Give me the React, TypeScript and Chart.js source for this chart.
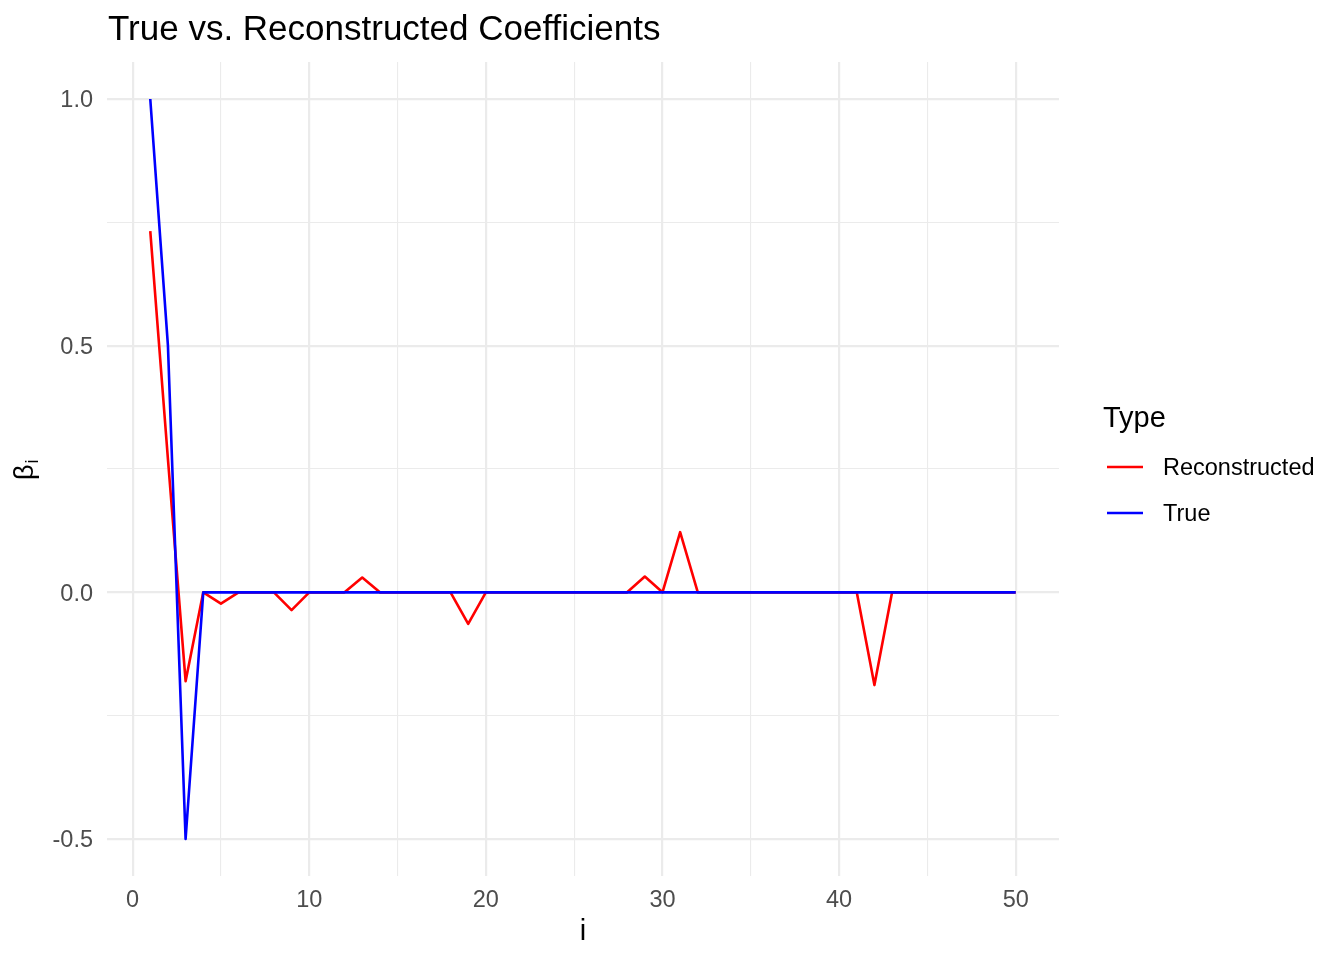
import React, { useEffect, useRef } from "react";
import { Chart, registerables } from "chart.js";

Chart.register(...registerables);

const indexI = [
  1, 2, 3, 4, 5, 6, 7, 8, 9, 10,
  11, 12, 13, 14, 15, 16, 17, 18, 19, 20,
  21, 22, 23, 24, 25, 26, 27, 28, 29, 30,
  31, 32, 33, 34, 35, 36, 37, 38, 39, 40,
  41, 42, 43, 44, 45, 46, 47, 48, 49, 50,
];

const reconstructed = [
  0.732, 0.27, -0.18, 0, -0.023, 0, 0, 0, -0.036, 0,
  0, 0, 0.03, 0, 0, 0, 0, 0, -0.064, 0,
  0, 0, 0, 0, 0, 0, 0, 0, 0.032, 0,
  0.122, 0, 0, 0, 0, 0, 0, 0, 0, 0,
  0, -0.188, 0, 0, 0, 0, 0, 0, 0, 0,
];

const trueValues = [
  1.0, 0.5, -0.5, 0, 0, 0, 0, 0, 0, 0,
  0, 0, 0, 0, 0, 0, 0, 0, 0, 0,
  0, 0, 0, 0, 0, 0, 0, 0, 0, 0,
  0, 0, 0, 0, 0, 0, 0, 0, 0, 0,
  0, 0, 0, 0, 0, 0, 0, 0, 0, 0,
];

const seriesLabels = ["Reconstructed", "True"];
const seriesColors = ["#FF0000", "#0000FF"];
const xTicks = [0, 5, 10, 15, 20, 25, 30, 35, 40, 45, 50];
const yTicks = [-0.5, -0.25, 0, 0.25, 0.5, 0.75, 1.0];
const titleText = "True vs. Reconstructed Coefficients";
const xTitle = "i";
const yTitleMain = "β";
const yTitleSub = "i";
const legendTitle = "Type";

const FONT = '"Liberation Sans", Arial, Helvetica, sans-serif';

const overlayPlugin = {
  id: "ggOverlay",
  afterDraw(chart: any) {
    const ctx = chart.ctx as CanvasRenderingContext2D;
    const area = chart.chartArea;
    ctx.save();
    // Title
    ctx.fillStyle = "#000000";
    ctx.font = `35px ${FONT}`;
    ctx.textAlign = "left";
    ctx.textBaseline = "alphabetic";
    ctx.fillText(titleText, 108, 40);

    // x axis title
    ctx.font = `29px ${FONT}`;
    ctx.textAlign = "center";
    ctx.fillText(xTitle, (area.left + area.right) / 2, 940);

    // y axis title (beta_i), rotated
    ctx.save();
    ctx.translate(33, 480);
    ctx.rotate(-Math.PI / 2);
    ctx.textAlign = "left";
    ctx.font = `27px ${FONT}`;
    const wb = ctx.measureText(yTitleMain).width;
    ctx.fillText(yTitleMain, 0, 0);
    ctx.font = `18px ${FONT}`;
    ctx.fillText(yTitleSub, wb + 1, 5);
    ctx.restore();

    // Legend
    ctx.font = `29px ${FONT}`;
    ctx.textAlign = "left";
    ctx.fillText(legendTitle, 1103, 427);
    const ys = [467, 513];
    ctx.font = `23.5px ${FONT}`;
    seriesLabels.forEach((lab, k) => {
      ctx.strokeStyle = seriesColors[k];
      ctx.lineWidth = 2.6;
      ctx.beginPath();
      ctx.moveTo(1107, ys[k]);
      ctx.lineTo(1143, ys[k]);
      ctx.stroke();
      ctx.fillStyle = "#000000";
      ctx.fillText(lab, 1163, ys[k] + 8.4);
    });
    ctx.restore();
  },
};

export default function App() {
  const canvasRef = useRef<HTMLCanvasElement | null>(null);

  useEffect(() => {
    const canvas = canvasRef.current;
    if (!canvas) return;
    const toPts = (vals: number[]) => indexI.map((x, k) => ({ x, y: vals[k] }));
    const chart = new Chart(canvas, {
      type: "line",
      data: {
        datasets: [
          {
            label: seriesLabels[0],
            data: toPts(reconstructed),
            borderColor: seriesColors[0],
            backgroundColor: seriesColors[0],
            borderWidth: 2.6,
            pointRadius: 0,
            tension: 0,
            fill: false,
            borderJoinStyle: "round",
            order: 1,
          },
          {
            label: seriesLabels[1],
            data: toPts(trueValues),
            borderColor: seriesColors[1],
            backgroundColor: seriesColors[1],
            borderWidth: 2.6,
            pointRadius: 0,
            tension: 0,
            fill: false,
            borderJoinStyle: "round",
            order: 0,
          },
        ],
      },
      options: {
        animation: false,
        responsive: false,
        devicePixelRatio: 1,
        layout: { padding: { top: 62, right: 285, bottom: 0, left: 0 } },
        plugins: {
          legend: { display: false },
          tooltip: { enabled: false },
          title: { display: false },
        },
        scales: {
          x: {
            type: "linear",
            min: -1.45,
            max: 52.45,
            afterBuildTicks: (s: any) => {
              s.ticks = xTicks.map((v) => ({ value: v }));
            },
            afterFit: (s: any) => {
              s.height = 84;
            },
            ticks: {
              autoSkip: false,
              maxRotation: 0,
              padding: 10,
              color: "#4D4D4D",
              font: { family: FONT, size: 23.5 },
              callback: (v: any) => (Number(v) % 10 === 0 ? String(v) : ""),
            },
            grid: {
              color: "#EBEBEB",
              lineWidth: (c: any) => (c.tick && c.tick.value % 10 === 0 ? 2.2 : 1.1),
              drawTicks: false,
            },
            border: { display: false },
          },
          y: {
            type: "linear",
            min: -0.575,
            max: 1.075,
            afterBuildTicks: (s: any) => {
              s.ticks = yTicks.map((v) => ({ value: v }));
            },
            afterFit: (s: any) => {
              s.width = 107;
            },
            ticks: {
              autoSkip: false,
              padding: 14,
              labelOffset: 2,
              color: "#4D4D4D",
              font: { family: FONT, size: 23.5 },
              callback: (v: any) => {
                const n = Number(v);
                return Math.abs(n * 2 - Math.round(n * 2)) < 1e-9 ? n.toFixed(1) : "";
              },
            },
            grid: {
              color: "#EBEBEB",
              lineWidth: (c: any) => {
                if (!c.tick) return 1.1;
                const n = c.tick.value;
                return Math.abs(n * 2 - Math.round(n * 2)) < 1e-9 ? 2.2 : 1.1;
              },
              drawTicks: false,
            },
            border: { display: false },
          },
        },
      },
      plugins: [overlayPlugin],
    } as any);
    return () => chart.destroy();
  }, []);

  return (
    <div style={{ position: "absolute", left: 0, top: 0, width: 1344, height: 960, background: "#FFFFFF" }}>
      <canvas ref={canvasRef} width={1344} height={960} style={{ width: 1344, height: 960 }} />
    </div>
  );
}
